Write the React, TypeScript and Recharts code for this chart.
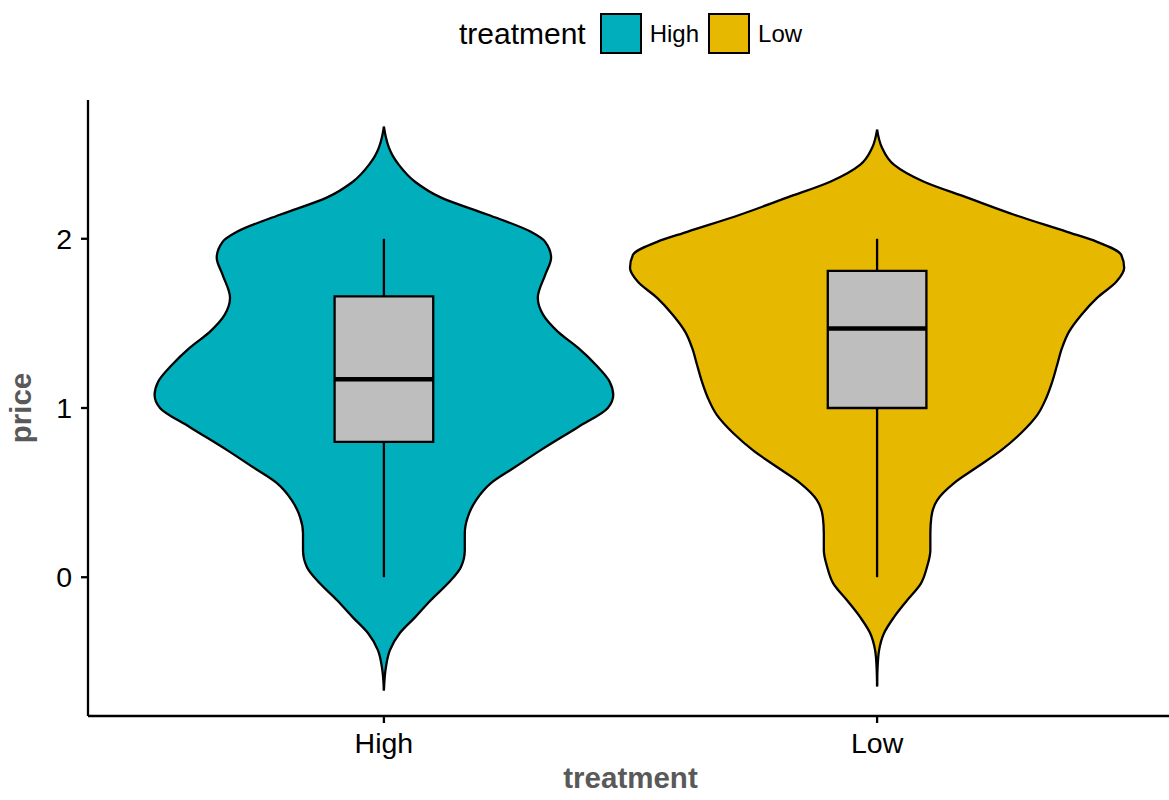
import React from 'react';
import {
  ComposedChart,
  Area,
  XAxis,
  YAxis,
  ReferenceArea,
  ReferenceLine,
  Legend,
} from 'recharts';

// Groups and their fill colours
const CATEGORIES = ['High', 'Low'];
const FILLS = ['#00AFBB', '#E7B800'];
const Y_TICKS = [0, 1, 2];

// Violin outlines: price level and half-width of the density (in group units)
const HIGH_Y = [-0.669, -0.533, -0.432, -0.331, -0.237, -0.136, -0.036, 0.059, 0.16, 0.26, 0.355, 0.456, 0.556, 0.651, 0.751, 0.888, 1.0, 1.077, 1.154, 1.254, 1.355, 1.45, 1.55, 1.651, 1.787, 1.888, 1.982, 2.041, 2.142, 2.243, 2.337, 2.438, 2.49, 2.54, 2.6, 2.663];
const HIGH_HALF = [0, 0.004, 0.012, 0.032, 0.063, 0.095, 0.13, 0.156, 0.164, 0.164, 0.17, 0.187, 0.217, 0.266, 0.318, 0.394, 0.454, 0.465, 0.458, 0.43, 0.394, 0.353, 0.323, 0.312, 0.327, 0.339, 0.327, 0.298, 0.211, 0.116, 0.063, 0.03, 0.018, 0.01, 0.004, 0];
const LOW_Y = [-0.645, -0.533, -0.432, -0.331, -0.237, -0.136, -0.036, 0.059, 0.16, 0.26, 0.355, 0.456, 0.556, 0.651, 0.751, 0.852, 0.959, 1.059, 1.154, 1.254, 1.355, 1.45, 1.55, 1.651, 1.746, 1.828, 1.905, 1.982, 2.041, 2.142, 2.243, 2.337, 2.438, 2.538, 2.645];
const LOW_HALF = [0, 0.001, 0.004, 0.014, 0.034, 0.061, 0.089, 0.101, 0.108, 0.108, 0.11, 0.122, 0.156, 0.203, 0.252, 0.292, 0.325, 0.343, 0.355, 0.365, 0.375, 0.389, 0.414, 0.446, 0.485, 0.501, 0.495, 0.446, 0.385, 0.278, 0.183, 0.095, 0.034, 0.01, 0];

// Box plot statistics per group
const BOX_LOWER = [0, 0];
const BOX_Q1 = [0.8, 1.0];
const BOX_MEDIAN = [1.17, 1.47];
const BOX_Q3 = [1.66, 1.81];
const BOX_UPPER = [2, 2];
const BOX_HALF_WIDTH = 0.1;

const FONT = '"Liberation Sans", Arial, Helvetica, sans-serif';
const TITLE_COLOR = '#595959';
const LINE_W = 2.3;

// One row per outline sample; each violin is a ranged area around its group position
const NONE: [null, null] = [null, null];
const rows = [
  ...HIGH_Y.map((y, i) => ({ y, High: [0 - HIGH_HALF[i], 0 + HIGH_HALF[i]], Low: NONE })),
  ...LOW_Y.map((y, i) => ({ y, High: NONE, Low: [1 - LOW_HALF[i], 1 + LOW_HALF[i]] })),
];

const fillOf = (name: string) => FILLS[CATEGORIES.indexOf(name)] ?? '#ccc';

const LegendContent = ({ payload }: any) => (
  <div
    style={{
      height: 100,
      paddingLeft: 88,
      boxSizing: 'border-box',
      fontFamily: FONT,
      display: 'flex',
      justifyContent: 'center',
      alignItems: 'flex-start',
    }}
  >
    <div style={{ display: 'flex', alignItems: 'center', marginTop: 13, height: 41 }}>
      <span style={{ fontSize: 30, color: '#000', marginRight: 14 }}>treatment</span>
      {(payload || []).map((entry: any, i: number) => (
        <div key={entry.value} style={{ display: 'flex', alignItems: 'center', marginLeft: i === 0 ? 0 : 9 }}>
          <div
            style={{
              width: 42,
              height: 41,
              boxSizing: 'border-box',
              background: fillOf(entry.value),
              border: '2px solid #000',
            }}
          />
          <span style={{ fontSize: 24, color: '#000', marginLeft: 8 }}>{entry.value}</span>
        </div>
      ))}
    </div>
  </div>
);

const PriceLabel = ({ viewBox }: any) => {
  const cx = viewBox.x + 31;
  const cy = viewBox.y + viewBox.height / 2;
  return (
    <text
      x={cx}
      y={cy}
      transform={`rotate(-90 ${cx} ${cy})`}
      textAnchor="middle"
      fontFamily={FONT}
      fontSize={29.5}
      fontWeight="bold"
      fill={TITLE_COLOR}
    >
      price
    </text>
  );
};

export default function App() {
  return (
    <div
      style={{
        position: 'absolute',
        left: 0,
        top: 0,
        width: 1169,
        height: 800,
        overflow: 'hidden',
        background: '#fff',
      }}
    >
      <ComposedChart
        width={1173}
        height={800}
        data={rows}
        layout="vertical"
        margin={{ top: 0, right: 0, bottom: 0, left: 0 }}
        style={{ fontFamily: FONT }}
      >
        <Legend
          verticalAlign="top"
          align="center"
          content={<LegendContent />}
          wrapperStyle={{ top: 0, left: 0, width: 1173, height: 100 }}
        />
        <XAxis
          type="number"
          domain={[-0.6, 1.6]}
          allowDataOverflow
          ticks={[0, 1]}
          tickFormatter={(v: number) => CATEGORIES[v]}
          height={84}
          tickSize={7}
          tickMargin={10}
          axisLine={{ stroke: '#000', strokeWidth: LINE_W }}
          tickLine={{ stroke: '#000', strokeWidth: LINE_W }}
          tick={{ fill: '#000', fontSize: 28.5, fontFamily: FONT }}
          label={{
            value: 'treatment',
            position: 'insideBottom',
            offset: 12,
            fill: TITLE_COLOR,
            fontSize: 29.5,
            fontWeight: 'bold',
            fontFamily: FONT,
          }}
        />
        <YAxis
          type="number"
          dataKey="y"
          reversed
          domain={[-0.82, 2.82]}
          allowDataOverflow
          ticks={Y_TICKS}
          width={88}
          tickSize={7}
          tickMargin={9}
          axisLine={{ stroke: '#000', strokeWidth: LINE_W }}
          tickLine={{ stroke: '#000', strokeWidth: LINE_W }}
          tick={{ fill: '#000', fontSize: 28.5, fontFamily: FONT }}
          label={<PriceLabel />}
        />
        {CATEGORIES.map((cat, i) => (
          <Area
            key={cat}
            name={cat}
            dataKey={cat}
            type="monotone"
            fill={FILLS[i]}
            fillOpacity={1}
            stroke="#000"
            strokeWidth={LINE_W}
            dot={false}
            activeDot={false}
            isAnimationActive={false}
          />
        ))}
        {CATEGORIES.map((cat, i) => (
          <ReferenceLine
            key={`wlo-${cat}`}
            segment={[
              { x: i, y: BOX_LOWER[i] },
              { x: i, y: BOX_Q1[i] },
            ]}
            stroke="#000"
            strokeWidth={LINE_W}
            zIndex={150}
          />
        ))}
        {CATEGORIES.map((cat, i) => (
          <ReferenceLine
            key={`whi-${cat}`}
            segment={[
              { x: i, y: BOX_Q3[i] },
              { x: i, y: BOX_UPPER[i] },
            ]}
            stroke="#000"
            strokeWidth={LINE_W}
            zIndex={150}
          />
        ))}
        {CATEGORIES.map((cat, i) => (
          <ReferenceArea
            key={`box-${cat}`}
            x1={i - BOX_HALF_WIDTH}
            x2={i + BOX_HALF_WIDTH}
            y1={BOX_Q1[i]}
            y2={BOX_Q3[i]}
            fill="#BEBEBE"
            fillOpacity={1}
            stroke="#000"
            strokeWidth={LINE_W}
            zIndex={160}
          />
        ))}
        {CATEGORIES.map((cat, i) => (
          <ReferenceLine
            key={`med-${cat}`}
            segment={[
              { x: i - BOX_HALF_WIDTH, y: BOX_MEDIAN[i] },
              { x: i + BOX_HALF_WIDTH, y: BOX_MEDIAN[i] },
            ]}
            stroke="#000"
            strokeWidth={4.5}
            zIndex={170}
          />
        ))}
      </ComposedChart>
    </div>
  );
}
